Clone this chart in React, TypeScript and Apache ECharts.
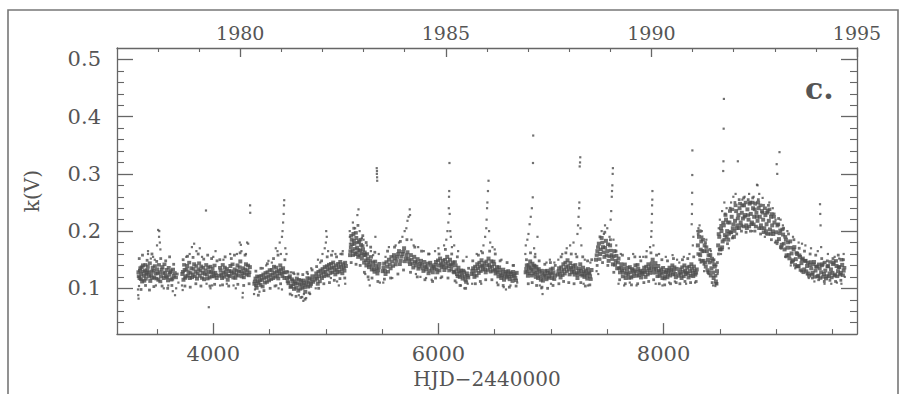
import React, { useEffect, useRef } from "react";
import * as echarts from "echarts";

// HJD-2440000 axis range (1977.0 .. 1995.0) and k(V) range
const xMin = 3144.5;
const xMax = 9718.5;
const yMin = 0.02;
const yMax = 0.52;

const xMajorTicks = [4000, 6000, 8000];
const xMinorTicks = [3500, 4500, 5000, 5500, 6500, 7000, 7500, 8500, 9000, 9500];
const yMajorTicks = [0.1, 0.2, 0.3, 0.4, 0.5];
const yMinorTicks = [0.04, 0.06, 0.08, 0.12, 0.14, 0.16, 0.18, 0.22, 0.24, 0.26, 0.28, 0.32, 0.34, 0.36, 0.38, 0.42, 0.44, 0.46, 0.48];
const yearMajorHJD = [4239.5, 6066.5, 7892.5, 9718.5];
const yearMajorLabels = ["1980", "1985", "1990", "1995"];
const yearMinorHJD = [3509.5, 3874.5, 4605.5, 4970.5, 5335.5, 5700.5, 6431.5, 6796.5, 7161.5, 7527.5, 8257.5, 8622.5, 8988.5, 9353.5];

// observations per season [HJD-2440000, k(V)]: dense core, extra fill, halo, outliers
const s1Core = [[3335,0.128],[3345,0.118],[3352,0.135],[3360,0.125],[3368,0.112],[3375,0.140],[3383,0.122],[3392,0.131],[3400,0.117],[3410,0.127],[3418,0.138],[3430,0.121],[3440,0.113],[3452,0.129],[3462,0.136],[3475,0.119],[3488,0.126],[3500,0.133],[3512,0.115],[3523,0.128],[3535,0.121],[3548,0.137],[3560,0.118],[3572,0.126],[3585,0.132],[3598,0.114],[3610,0.124],[3622,0.130],[3635,0.117],[3650,0.122]];
const s1Fill = [[3338,0.121],[3349,0.131],[3357,0.116],[3364,0.137],[3379,0.129],[3387,0.113],[3396,0.141],[3405,0.124],[3414,0.132],[3425,0.128],[3436,0.144],[3447,0.123],[3457,0.118],[3468,0.131],[3481,0.139],[3494,0.117],[3506,0.126],[3517,0.141],[3529,0.112],[3541,0.133],[3554,0.127],[3566,0.142],[3579,0.121],[3591,0.119],[3604,0.136],[3616,0.128],[3628,0.115],[3642,0.133],[3657,0.127],[3668,0.119]];
const s1Halo = [[3342,0.152],[3358,0.098],[3371,0.158],[3398,0.105],[3412,0.149],[3433,0.097],[3455,0.16],[3472,0.103],[3497,0.147],[3533,0.152],[3545,0.104],[3577,0.148],[3595,0.1],[3612,0.155],[3632,0.105],[3648,0.142],[3680,0.125]];
const s1Out = [[3331,0.098],[3333,0.088],[3336,0.082],[3340,0.104],[3420,0.16],[3445,0.152],[3480,0.15],[3500,0.175],[3510,0.202],[3520,0.200],[3518,0.19],[3525,0.18],[3530,0.168],[3490,0.105],[3560,0.1],[3600,0.105],[3640,0.095],[3660,0.088],[3670,0.1],[3690,0.11],[3420,0.165],[3465,0.155]];
const s2Core = [[3725,0.125],[3735,0.115],[3745,0.132],[3755,0.121],[3768,0.139],[3780,0.128],[3792,0.118],[3805,0.135],[3818,0.124],[3830,0.142],[3842,0.129],[3855,0.117],[3868,0.133],[3880,0.122],[3893,0.138],[3905,0.127],[3918,0.116],[3930,0.131],[3943,0.124],[3955,0.136],[3968,0.119],[3980,0.128],[3993,0.134],[4005,0.121],[4018,0.127],[4030,0.118]];
const s2Fill = [[3730,0.129],[3741,0.141],[3750,0.118],[3762,0.133],[3774,0.122],[3786,0.145],[3798,0.127],[3811,0.119],[3824,0.134],[3836,0.121],[3849,0.139],[3861,0.126],[3874,0.144],[3886,0.131],[3899,0.118],[3911,0.136],[3924,0.125],[3937,0.141],[3949,0.117],[3962,0.129],[3974,0.138],[3987,0.121],[3999,0.127],[4011,0.14],[4024,0.123]];
const s2Halo = [[3732,0.15],[3748,0.104],[3771,0.156],[3795,0.102],[3820,0.154],[3845,0.108],[3866,0.16],[3890,0.104],[3915,0.151],[3950,0.158],[3970,0.104],[3985,0.152],[4012,0.107],[4033,0.148]];
const s2Out = [[3722,0.105],[3728,0.097],[3760,0.155],[3790,0.16],[3810,0.172],[3830,0.178],[3850,0.165],[3880,0.17],[3935,0.236],[3900,0.155],[3960,0.067],[3975,0.1],[3940,0.108],[4000,0.155],[4020,0.165],[3990,0.105]];
const s3Core = [[4055,0.122],[4065,0.131],[4078,0.118],[4090,0.127],[4102,0.136],[4115,0.124],[4128,0.115],[4140,0.13],[4152,0.139],[4165,0.126],[4178,0.119],[4190,0.133],[4203,0.124],[4215,0.14],[4228,0.129],[4240,0.147],[4252,0.121],[4265,0.135],[4278,0.127],[4290,0.142],[4303,0.131],[4315,0.123],[4325,0.137]];
const s3Fill = [[4060,0.136],[4071,0.124],[4084,0.141],[4096,0.12],[4108,0.129],[4121,0.134],[4134,0.122],[4146,0.121],[4158,0.13],[4171,0.142],[4184,0.127],[4196,0.118],[4209,0.131],[4221,0.122],[4234,0.137],[4246,0.13],[4259,0.126],[4271,0.119],[4284,0.133],[4296,0.124],[4309,0.14],[4320,0.128]];
const s3Halo = [[4058,0.15],[4082,0.106],[4105,0.155],[4137,0.104],[4160,0.152],[4188,0.158],[4218,0.107],[4238,0.162],[4270,0.105],[4282,0.158],[4318,0.108]];
const s3Out = [[4060,0.105],[4090,0.15],[4120,0.108],[4150,0.16],[4180,0.105],[4210,0.16],[4235,0.18],[4245,0.176],[4250,0.165],[4260,0.084],[4262,0.092],[4290,0.16],[4300,0.18],[4310,0.178],[4327,0.245],[4328,0.232],[4200,0.1]];
const s4Core = [[4365,0.108],[4375,0.117],[4385,0.101],[4395,0.112],[4408,0.12],[4420,0.106],[4432,0.115],[4445,0.124],[4458,0.11],[4470,0.119],[4482,0.128],[4495,0.114],[4508,0.123],[4520,0.132],[4533,0.118],[4545,0.127],[4558,0.136],[4570,0.122],[4583,0.131],[4595,0.14],[4608,0.126],[4620,0.135],[4632,0.118],[4640,0.128]];
const s4Fill = [[4369,0.112],[4380,0.105],[4390,0.121],[4402,0.109],[4414,0.114],[4426,0.122],[4438,0.103],[4451,0.118],[4464,0.127],[4476,0.111],[4489,0.121],[4501,0.132],[4514,0.116],[4527,0.125],[4539,0.138],[4551,0.12],[4564,0.129],[4577,0.117],[4589,0.126],[4602,0.133],[4614,0.121],[4626,0.128]];
const s4Halo = [[4378,0.13],[4400,0.088],[4423,0.135],[4450,0.096],[4480,0.143],[4505,0.1],[4535,0.152],[4548,0.104],[4575,0.158],[4598,0.108],[4636,0.15]];
const s4Out = [[4362,0.09],[4370,0.098],[4410,0.094],[4440,0.135],[4470,0.14],[4490,0.148],[4520,0.145],[4555,0.17],[4570,0.165],[4590,0.18],[4600,0.16],[4615,0.2],[4620,0.215],[4625,0.23],[4628,0.245],[4630,0.254],[4610,0.19],[4640,0.17],[4650,0.16],[4580,0.1],[4610,0.098],[4560,0.105]];
const s5Core = [[4655,0.118],[4668,0.109],[4680,0.121],[4692,0.104],[4705,0.113],[4717,0.099],[4730,0.108],[4742,0.117],[4755,0.096],[4767,0.106],[4780,0.113],[4792,0.101],[4805,0.109],[4817,0.094],[4830,0.112],[4842,0.103],[4855,0.117],[4868,0.108],[4880,0.121]];
const s5Fill = [[4661,0.112],[4674,0.119],[4686,0.102],[4698,0.116],[4711,0.107],[4724,0.112],[4736,0.101],[4748,0.109],[4761,0.115],[4773,0.099],[4786,0.107],[4798,0.114],[4811,0.102],[4823,0.106],[4836,0.118],[4848,0.11],[4861,0.104],[4874,0.115],[4886,0.111]];
const s5Halo = [[4664,0.128],[4683,0.09],[4712,0.127],[4735,0.086],[4752,0.125],[4778,0.084],[4795,0.124],[4815,0.081],[4833,0.128],[4852,0.092],[4878,0.132]];
const s5Out = [[4660,0.13],[4690,0.128],[4720,0.125],[4760,0.088],[4790,0.085],[4800,0.078],[4805,0.09],[4825,0.083],[4840,0.125],[4700,0.088],[4870,0.135],[4860,0.09]];
const s6Core = [[4905,0.115],[4915,0.126],[4928,0.108],[4940,0.121],[4952,0.131],[4965,0.118],[4978,0.128],[4990,0.137],[5003,0.124],[5015,0.133],[5028,0.141],[5040,0.127],[5053,0.136],[5065,0.145],[5078,0.131],[5090,0.14],[5103,0.128],[5115,0.137],[5128,0.146],[5140,0.133],[5153,0.142],[5165,0.131],[5178,0.139]];
const s6Fill = [[4910,0.121],[4922,0.117],[4934,0.129],[4946,0.112],[4959,0.125],[4971,0.134],[4984,0.121],[4996,0.129],[5009,0.139],[5021,0.122],[5034,0.134],[5046,0.143],[5059,0.128],[5071,0.137],[5084,0.124],[5096,0.133],[5109,0.143],[5121,0.129],[5134,0.139],[5146,0.126],[5159,0.136],[5171,0.145]];
const s6Halo = [[4918,0.138],[4936,0.1],[4962,0.148],[4982,0.108],[5012,0.155],[5032,0.11],[5050,0.158],[5075,0.114],[5095,0.155],[5125,0.117],[5145,0.16],[5168,0.118]];
const s6Out = [[4910,0.1],[4930,0.15],[4950,0.145],[4970,0.16],[4990,0.17],[5000,0.18],[5008,0.19],[5003,0.2],[5020,0.165],[5045,0.118],[5060,0.165],[5085,0.16],[5100,0.112],[5115,0.105],[5130,0.16],[5150,0.165],[5172,0.108]];
const s7Core = [[5215,0.158],[5222,0.172],[5230,0.185],[5238,0.165],[5245,0.195],[5253,0.178],[5262,0.16],[5270,0.188],[5278,0.171],[5287,0.155],[5295,0.182],[5303,0.166],[5312,0.176],[5320,0.152],[5330,0.168],[5340,0.145],[5350,0.158],[5360,0.14],[5372,0.152],[5383,0.137],[5395,0.148],[5408,0.133],[5420,0.145],[5432,0.129],[5445,0.14],[5458,0.126],[5470,0.137]];
const s7Fill = [[5218,0.165],[5226,0.192],[5234,0.177],[5242,0.158],[5249,0.183],[5257,0.169],[5266,0.197],[5274,0.162],[5282,0.18],[5291,0.167],[5299,0.158],[5307,0.185],[5316,0.161],[5325,0.174],[5335,0.158],[5345,0.163],[5355,0.149],[5366,0.16],[5377,0.145],[5389,0.141],[5401,0.155],[5414,0.139],[5426,0.133],[5438,0.147],[5451,0.134],[5464,0.131],[5476,0.143]];
const s7Halo = [[5225,0.145],[5248,0.205],[5268,0.142],[5285,0.21],[5305,0.14],[5328,0.192],[5342,0.128],[5358,0.18],[5375,0.12],[5398,0.172],[5410,0.118],[5435,0.163],[5462,0.112]];
const s7Out = [[5212,0.2],[5213,0.19],[5214,0.178],[5240,0.215],[5260,0.205],[5280,0.228],[5290,0.238],[5300,0.2],[5320,0.188],[5335,0.185],[5350,0.125],[5365,0.175],[5380,0.115],[5390,0.105],[5400,0.165],[5420,0.158],[5440,0.19],[5452,0.31],[5453,0.3],[5455,0.294],[5456,0.288],[5454,0.305],[5470,0.16],[5480,0.11]];
const s8Core = [[5505,0.13],[5518,0.143],[5530,0.125],[5545,0.138],[5560,0.15],[5575,0.135],[5590,0.147],[5605,0.158],[5620,0.142],[5635,0.155],[5650,0.165],[5665,0.148],[5680,0.16],[5695,0.17],[5710,0.152],[5725,0.163],[5740,0.147],[5755,0.158],[5770,0.143],[5785,0.155],[5800,0.14],[5815,0.151],[5830,0.138],[5845,0.148],[5860,0.135],[5875,0.146],[5890,0.133],[5905,0.143],[5920,0.131],[5935,0.14],[5950,0.128]];
const s8Fill = [[5512,0.136],[5524,0.131],[5538,0.146],[5552,0.129],[5567,0.142],[5582,0.155],[5597,0.139],[5612,0.152],[5627,0.148],[5642,0.16],[5657,0.142],[5672,0.155],[5687,0.164],[5702,0.147],[5717,0.158],[5732,0.152],[5747,0.142],[5762,0.15],[5777,0.136],[5792,0.147],[5807,0.145],[5822,0.134],[5837,0.143],[5852,0.141],[5867,0.13],[5882,0.139],[5897,0.137],[5912,0.126],[5927,0.145],[5943,0.134],[5956,0.138]];
const s8Halo = [[5520,0.116],[5548,0.165],[5575,0.118],[5610,0.172],[5640,0.125],[5662,0.182],[5690,0.132],[5720,0.185],[5752,0.128],[5790,0.172],[5812,0.12],[5850,0.165],[5880,0.115],[5912,0.16],[5948,0.112]];
const s8Out = [[5510,0.11],[5530,0.155],[5560,0.172],[5590,0.118],[5620,0.175],[5650,0.18],[5680,0.19],[5700,0.2],[5715,0.205],[5725,0.218],[5735,0.225],[5745,0.238],[5748,0.228],[5760,0.185],[5780,0.175],[5800,0.125],[5820,0.172],[5840,0.12],[5870,0.165],[5890,0.118],[5920,0.16],[5940,0.115]];
const s9Core = [[5965,0.135],[5978,0.146],[5990,0.128],[6003,0.14],[6015,0.152],[6028,0.137],[6040,0.148],[6053,0.132],[6065,0.143],[6078,0.155],[6090,0.139],[6103,0.15],[6115,0.134],[6128,0.145],[6140,0.128],[6153,0.14],[6165,0.125],[6178,0.136],[6190,0.12],[6203,0.131],[6215,0.117],[6228,0.128],[6240,0.115],[6253,0.126],[6265,0.119]];
const s9Fill = [[5971,0.141],[5984,0.133],[5996,0.149],[6009,0.131],[6021,0.144],[6034,0.141],[6046,0.138],[6059,0.15],[6071,0.136],[6084,0.146],[6096,0.131],[6109,0.142],[6121,0.14],[6134,0.129],[6146,0.146],[6159,0.132],[6171,0.121],[6184,0.13],[6196,0.127],[6209,0.123],[6221,0.131],[6234,0.121],[6246,0.111],[6259,0.122]];
const s9Halo = [[5975,0.118],[6005,0.16],[6030,0.12],[6062,0.168],[6085,0.118],[6118,0.16],[6148,0.113],[6168,0.155],[6192,0.105],[6220,0.148],[6242,0.1],[6268,0.135]];
const s9Out = [[5970,0.165],[6000,0.17],[6020,0.118],[6050,0.175],[6070,0.185],[6080,0.2],[6088,0.215],[6092,0.24],[6094,0.26],[6096,0.27],[6098,0.319],[6100,0.23],[6105,0.2],[6110,0.19],[6120,0.172],[6140,0.175],[6160,0.11],[6175,0.165],[6200,0.105],[6230,0.1],[6250,0.155],[6260,0.108]];
const s10Core = [[6295,0.125],[6308,0.135],[6320,0.12],[6333,0.131],[6345,0.142],[6358,0.127],[6370,0.138],[6383,0.149],[6395,0.133],[6408,0.144],[6420,0.128],[6433,0.14],[6445,0.152],[6458,0.136],[6470,0.147],[6483,0.131],[6495,0.142],[6508,0.126],[6520,0.137],[6533,0.121],[6545,0.132],[6558,0.118],[6570,0.128],[6583,0.115],[6595,0.126],[6608,0.119],[6620,0.13],[6633,0.116],[6645,0.125],[6658,0.113],[6670,0.122],[6683,0.118],[6695,0.127]];
const s10Fill = [[6301,0.131],[6314,0.126],[6326,0.138],[6339,0.122],[6351,0.135],[6364,0.145],[6376,0.13],[6389,0.14],[6401,0.138],[6414,0.133],[6426,0.147],[6439,0.132],[6451,0.141],[6464,0.129],[6476,0.138],[6489,0.147],[6501,0.133],[6514,0.131],[6526,0.128],[6539,0.137],[6551,0.125],[6564,0.122],[6576,0.133],[6589,0.121],[6601,0.129],[6614,0.124],[6626,0.121],[6639,0.128],[6651,0.12],[6664,0.129],[6677,0.125],[6689,0.114]];
const s10Halo = [[6305,0.148],[6328,0.108],[6355,0.158],[6372,0.112],[6392,0.162],[6420,0.115],[6455,0.165],[6475,0.115],[6505,0.16],[6530,0.106],[6548,0.148],[6575,0.105],[6610,0.145],[6630,0.102],[6668,0.14],[6690,0.104]];
const s10Out = [[6300,0.108],[6340,0.16],[6380,0.165],[6400,0.175],[6415,0.19],[6425,0.205],[6428,0.22],[6432,0.24],[6435,0.25],[6440,0.27],[6445,0.288],[6450,0.2],[6460,0.18],[6480,0.172],[6500,0.168],[6520,0.11],[6560,0.15],[6580,0.102],[6600,0.098],[6640,0.105],[6660,0.14],[6700,0.11],[6380,0.108]];
const s11Core = [[6775,0.128],[6785,0.14],[6795,0.122],[6805,0.135],[6815,0.147],[6825,0.131],[6835,0.143],[6845,0.126],[6855,0.138],[6865,0.12],[6875,0.132],[6885,0.118],[6897,0.129],[6910,0.115],[6922,0.126],[6935,0.119],[6948,0.13],[6960,0.116],[6972,0.127],[6985,0.121],[6998,0.133],[7010,0.118],[7022,0.128],[7035,0.122]];
const s11Fill = [[6780,0.134],[6790,0.129],[6800,0.141],[6810,0.126],[6820,0.137],[6830,0.122],[6840,0.133],[6850,0.14],[6860,0.127],[6870,0.138],[6880,0.125],[6891,0.134],[6903,0.121],[6916,0.131],[6928,0.113],[6941,0.124],[6954,0.122],[6966,0.131],[6978,0.118],[6991,0.127],[7004,0.125],[7016,0.135],[7029,0.116]];
const s11Halo = [[6782,0.15],[6798,0.108],[6818,0.162],[6833,0.11],[6858,0.155],[6872,0.105],[6895,0.148],[6920,0.102],[6945,0.142],[6970,0.1],[6995,0.145],[7018,0.105],[7038,0.14]];
const s11Out = [[6772,0.16],[6776,0.175],[6790,0.185],[6800,0.195],[6810,0.212],[6820,0.225],[6830,0.24],[6838,0.259],[6840,0.319],[6842,0.367],[6850,0.17],[6860,0.16],[6880,0.19],[6900,0.105],[6915,0.1],[6925,0.09],[6960,0.145],[6990,0.15],[7000,0.108],[7030,0.145]];
const s12Core = [[7060,0.124],[7072,0.135],[7085,0.119],[7097,0.13],[7110,0.142],[7122,0.126],[7135,0.137],[7147,0.149],[7160,0.133],[7172,0.144],[7185,0.128],[7197,0.139],[7210,0.124],[7222,0.135],[7235,0.118],[7247,0.13],[7260,0.142],[7272,0.125],[7285,0.136],[7297,0.12],[7310,0.131],[7322,0.117],[7335,0.128],[7347,0.121],[7360,0.132]];
const s12Fill = [[7066,0.13],[7078,0.125],[7091,0.137],[7103,0.123],[7116,0.133],[7128,0.145],[7141,0.13],[7153,0.139],[7166,0.124],[7178,0.136],[7191,0.133],[7203,0.129],[7216,0.141],[7228,0.127],[7241,0.124],[7253,0.135],[7266,0.131],[7278,0.122],[7291,0.129],[7303,0.126],[7316,0.123],[7328,0.134],[7341,0.126],[7353,0.116]];
const s12Halo = [[7070,0.108],[7090,0.155],[7112,0.112],[7132,0.162],[7158,0.11],[7180,0.16],[7205,0.108],[7230,0.155],[7265,0.11],[7282,0.155],[7305,0.104],[7325,0.148],[7345,0.106],[7362,0.15]];
const s12Out = [[7065,0.15],[7100,0.16],[7140,0.17],[7170,0.175],[7200,0.18],[7220,0.16],[7235,0.195],[7240,0.21],[7245,0.225],[7250,0.24],[7252,0.25],[7255,0.313],[7258,0.32],[7260,0.329],[7262,0.205],[7270,0.175],[7290,0.108],[7300,0.15],[7330,0.105],[7350,0.145]];
const s13Core = [[7400,0.15],[7412,0.165],[7425,0.178],[7437,0.16],[7450,0.188],[7462,0.172],[7475,0.155],[7488,0.183],[7500,0.165],[7512,0.148],[7525,0.175],[7538,0.158],[7550,0.142],[7563,0.165],[7575,0.148],[7588,0.135],[7600,0.152],[7613,0.128],[7625,0.142],[7638,0.121],[7650,0.135],[7663,0.118],[7675,0.13],[7688,0.124],[7700,0.137],[7713,0.119],[7725,0.131],[7738,0.126],[7750,0.14],[7763,0.122],[7775,0.134],[7788,0.128],[7800,0.119]];
const s13Fill = [[7406,0.158],[7418,0.172],[7431,0.151],[7443,0.168],[7456,0.18],[7468,0.163],[7481,0.171],[7494,0.158],[7506,0.177],[7518,0.156],[7531,0.166],[7544,0.151],[7556,0.156],[7569,0.141],[7581,0.157],[7594,0.145],[7606,0.135],[7619,0.136],[7631,0.131],[7644,0.128],[7656,0.142],[7669,0.125],[7681,0.136],[7694,0.118],[7706,0.128],[7719,0.134],[7731,0.121],[7744,0.132],[7756,0.129],[7769,0.141],[7781,0.123],[7794,0.131],[7806,0.127]];
const s13Halo = [[7410,0.14],[7435,0.19],[7458,0.145],[7478,0.198],[7505,0.14],[7528,0.185],[7558,0.128],[7578,0.165],[7610,0.115],[7635,0.158],[7660,0.108],[7690,0.152],[7715,0.106],[7745,0.155],[7770,0.108],[7798,0.148]];
const s13Out = [[7405,0.13],[7420,0.125],[7450,0.2],[7470,0.195],[7480,0.21],[7500,0.205],[7520,0.19],[7530,0.22],[7535,0.235],[7540,0.26],[7542,0.27],[7545,0.28],[7548,0.3],[7550,0.31],[7555,0.185],[7580,0.175],[7600,0.108],[7620,0.16],[7650,0.105],[7700,0.11],[7730,0.16],[7760,0.105],[7790,0.155]];
const s14Core = [[7815,0.125],[7828,0.136],[7840,0.12],[7853,0.131],[7865,0.142],[7878,0.127],[7890,0.138],[7903,0.15],[7915,0.133],[7928,0.144],[7940,0.128],[7953,0.139],[7965,0.122],[7978,0.133],[7990,0.118],[8003,0.129],[8015,0.121],[8028,0.132],[8040,0.125],[8053,0.136],[8065,0.128],[8078,0.14],[8090,0.131],[8103,0.125],[8115,0.134]];
const s14Fill = [[7821,0.131],[7834,0.128],[7846,0.138],[7859,0.124],[7871,0.135],[7884,0.132],[7896,0.144],[7909,0.127],[7921,0.138],[7934,0.134],[7946,0.121],[7959,0.131],[7971,0.128],[7984,0.125],[7996,0.136],[8009,0.117],[8021,0.128],[8034,0.119],[8046,0.131],[8059,0.122],[8071,0.133],[8084,0.124],[8096,0.137],[8109,0.119]];
const s14Halo = [[7825,0.11],[7845,0.155],[7868,0.112],[7888,0.162],[7912,0.115],[7938,0.158],[7962,0.108],[7985,0.15],[8010,0.106],[8035,0.148],[8062,0.108],[8088,0.152],[8112,0.11]];
const s14Out = [[7820,0.155],[7850,0.165],[7880,0.172],[7890,0.19],[7893,0.2],[7895,0.215],[7897,0.23],[7898,0.245],[7900,0.255],[7901,0.27],[7910,0.175],[7930,0.108],[7960,0.16],[7990,0.105],[8020,0.155],[8050,0.11],[8080,0.158],[8100,0.112],[8120,0.15]];
const s15Core = [[8135,0.122],[8148,0.133],[8160,0.118],[8172,0.129],[8185,0.14],[8197,0.125],[8210,0.136],[8222,0.119],[8235,0.13],[8247,0.142],[8258,0.127],[8270,0.138],[8282,0.124],[8295,0.133]];
const s15Fill = [[8141,0.128],[8154,0.125],[8166,0.137],[8179,0.121],[8191,0.131],[8204,0.128],[8216,0.126],[8229,0.138],[8241,0.122],[8252,0.134],[8264,0.121],[8276,0.131],[8289,0.127]];
const s15Halo = [[8145,0.108],[8168,0.15],[8190,0.112],[8215,0.152],[8240,0.11],[8268,0.155],[8290,0.112]];
const s15Out = [[8140,0.145],[8180,0.155],[8200,0.108],[8230,0.16],[8250,0.212],[8252,0.23],[8253,0.247],[8254,0.267],[8255,0.298],[8256,0.341],[8260,0.175],[8265,0.19],[8280,0.11]];
const s16Core = [[8305,0.175],[8315,0.19],[8325,0.158],[8335,0.182],[8345,0.165],[8355,0.148],[8365,0.175],[8375,0.138],[8385,0.165],[8395,0.15],[8405,0.128],[8415,0.158],[8425,0.135],[8435,0.148],[8445,0.118],[8455,0.138],[8465,0.112],[8475,0.13]];
const s16Fill = [[8310,0.16],[8320,0.2],[8330,0.168],[8340,0.148],[8350,0.185],[8360,0.165],[8370,0.145],[8380,0.172],[8390,0.132],[8400,0.158],[8410,0.145],[8420,0.122],[8430,0.152],[8440,0.128],[8450,0.142],[8460,0.122],[8470,0.108]];
const s16Halo = [[8308,0.195],[8322,0.15],[8342,0.19],[8358,0.142],[8372,0.18],[8392,0.128],[8412,0.168],[8432,0.11],[8448,0.15],[8468,0.108],[8478,0.145]];
const s16Out = [[8300,0.2],[8310,0.205],[8320,0.21],[8330,0.145],[8340,0.2],[8360,0.13],[8380,0.185],[8400,0.125],[8420,0.165],[8440,0.105],[8460,0.104],[8470,0.14],[8480,0.125]];
const s17Core = [[8485,0.175],[8495,0.19],[8505,0.168],[8515,0.2],[8525,0.182],[8535,0.21],[8545,0.193],[8555,0.22],[8565,0.2],[8575,0.185],[8585,0.215],[8595,0.198],[8605,0.225],[8615,0.205],[8625,0.19],[8635,0.218],[8645,0.235],[8655,0.21],[8665,0.228],[8675,0.24],[8685,0.215],[8695,0.232],[8705,0.222],[8715,0.245],[8725,0.228],[8735,0.21],[8745,0.238],[8755,0.22],[8765,0.248],[8775,0.23],[8785,0.215],[8795,0.24],[8805,0.225],[8815,0.248],[8825,0.232],[8835,0.218],[8845,0.24],[8855,0.225],[8865,0.21],[8875,0.235],[8885,0.22],[8895,0.205],[8905,0.228],[8915,0.212],[8925,0.235],[8935,0.218],[8945,0.203],[8955,0.225],[8965,0.21],[8975,0.195],[8985,0.215]];
const s17Fill = [[8490,0.195],[8500,0.168],[8510,0.205],[8520,0.172],[8530,0.215],[8540,0.185],[8550,0.228],[8560,0.19],[8570,0.215],[8580,0.195],[8590,0.235],[8600,0.198],[8610,0.238],[8620,0.212],[8630,0.2],[8640,0.245],[8650,0.205],[8660,0.222],[8670,0.205],[8680,0.248],[8690,0.21],[8700,0.245],[8710,0.208],[8720,0.225],[8730,0.25],[8740,0.205],[8750,0.228],[8760,0.208],[8770,0.25],[8780,0.212],[8790,0.25],[8800,0.212],[8810,0.238],[8820,0.208],[8830,0.225],[8840,0.25],[8850,0.205],[8860,0.245],[8870,0.205],[8880,0.232],[8890,0.198],[8900,0.24],[8910,0.2],[8920,0.232],[8930,0.195],[8940,0.238],[8950,0.195],[8960,0.23],[8970,0.2],[8980,0.225]];
const s17Halo = [[8488,0.16],[8508,0.21],[8522,0.168],[8548,0.23],[8568,0.178],[8592,0.24],[8612,0.188],[8634,0.25],[8650,0.195],[8672,0.255],[8692,0.2],[8712,0.258],[8733,0.198],[8752,0.255],[8772,0.2],[8792,0.258],[8812,0.2],[8842,0.255],[8862,0.195],[8888,0.245],[8912,0.195],[8932,0.245],[8958,0.185],[8982,0.23]];
const s17Out = [[8490,0.205],[8500,0.22],[8510,0.16],[8520,0.235],[8530,0.305],[8532,0.322],[8534,0.379],[8536,0.431],[8540,0.25],[8560,0.24],[8580,0.17],[8600,0.25],[8620,0.26],[8640,0.265],[8660,0.322],[8700,0.255],[8720,0.26],[8760,0.265],[8790,0.2],[8800,0.26],[8830,0.281],[8835,0.28],[8850,0.265],[8880,0.258],[8900,0.19],[8940,0.25],[8970,0.24],[8990,0.18]];
const s18Core = [[9000,0.198],[9012,0.21],[9025,0.186],[9037,0.201],[9050,0.176],[9062,0.194],[9075,0.168],[9087,0.185],[9100,0.171],[9112,0.158],[9125,0.182],[9137,0.161],[9150,0.149],[9162,0.172],[9175,0.151],[9187,0.16],[9200,0.139],[9212,0.155],[9225,0.144],[9237,0.152],[9250,0.133],[9262,0.148],[9275,0.139],[9287,0.126],[9300,0.141],[9312,0.135],[9325,0.127],[9337,0.146],[9350,0.131],[9362,0.138],[9375,0.122],[9387,0.135],[9400,0.128],[9412,0.142],[9425,0.125],[9437,0.131],[9450,0.121],[9462,0.139],[9475,0.126],[9487,0.133],[9500,0.127],[9512,0.145],[9525,0.124],[9537,0.139],[9550,0.13],[9562,0.137],[9575,0.127],[9587,0.141],[9600,0.131]];
const s18Fill = [[9006,0.182],[9018,0.212],[9031,0.196],[9043,0.172],[9056,0.203],[9068,0.178],[9081,0.19],[9093,0.158],[9106,0.18],[9118,0.152],[9131,0.171],[9143,0.147],[9156,0.168],[9168,0.141],[9181,0.162],[9193,0.138],[9206,0.158],[9218,0.132],[9231,0.15],[9243,0.128],[9256,0.148],[9268,0.13],[9281,0.145],[9293,0.122],[9306,0.146],[9318,0.124],[9331,0.142],[9343,0.12],[9356,0.138],[9368,0.121],[9381,0.142],[9393,0.118],[9406,0.14],[9418,0.12],[9431,0.145],[9443,0.117],[9456,0.138],[9468,0.121],[9481,0.146],[9493,0.119],[9506,0.142],[9518,0.122],[9531,0.148],[9543,0.121],[9556,0.137],[9568,0.124],[9581,0.15],[9593,0.123],[9606,0.136]];
const s18Halo = [[9008,0.178],[9022,0.222],[9045,0.17],[9066,0.205],[9090,0.155],[9110,0.195],[9135,0.145],[9158,0.185],[9178,0.138],[9205,0.17],[9225,0.13],[9252,0.165],[9275,0.125],[9302,0.16],[9322,0.118],[9352,0.158],[9378,0.115],[9405,0.152],[9428,0.112],[9455,0.148],[9478,0.114],[9505,0.152],[9528,0.112],[9552,0.158],[9575,0.114],[9598,0.15]];
const s18Out = [[8995,0.22],[9005,0.317],[9010,0.3],[9030,0.338],[9040,0.22],[9060,0.21],[9080,0.155],[9100,0.2],[9130,0.14],[9150,0.19],[9170,0.135],[9200,0.18],[9230,0.178],[9260,0.175],[9290,0.118],[9310,0.17],[9340,0.112],[9370,0.165],[9390,0.247],[9392,0.23],[9395,0.21],[9400,0.172],[9430,0.108],[9460,0.16],[9490,0.108],[9520,0.155],[9540,0.11],[9560,0.152],[9580,0.108],[9600,0.16],[9610,0.12]];

const coreSets = [s1Core, s2Core, s3Core, s4Core, s5Core, s6Core, s7Core, s8Core, s9Core, s10Core, s11Core, s12Core, s13Core, s14Core, s15Core, s16Core, s17Core, s18Core];
const fillSets = [s1Fill, s2Fill, s3Fill, s4Fill, s5Fill, s6Fill, s7Fill, s8Fill, s9Fill, s10Fill, s11Fill, s12Fill, s13Fill, s14Fill, s15Fill, s16Fill, s17Fill, s18Fill];
const haloSets = [s1Halo, s2Halo, s3Halo, s4Halo, s5Halo, s6Halo, s7Halo, s8Halo, s9Halo, s10Halo, s11Halo, s12Halo, s13Halo, s14Halo, s15Halo, s16Halo, s17Halo, s18Halo];
const outSets = [s1Out, s2Out, s3Out, s4Out, s5Out, s6Out, s7Out, s8Out, s9Out, s10Out, s11Out, s12Out, s13Out, s14Out, s15Out, s16Out, s17Out, s18Out];

const FONT = "DejaVu Serif";
const TXT = "#555";
const AX = "#666";
const DOT = "#4d4d4d";

export default function App() {
  const ref = useRef<HTMLDivElement>(null);
  useEffect(() => {
    if (!ref.current) return;
    const chart = echarts.init(ref.current, null, { renderer: "svg" });
    const hideAll = {
      axisLine: { show: false },
      axisLabel: { show: false },
      splitLine: { show: false },
    };
    const xBase = { type: "value", min: xMin, max: xMax, gridIndex: 0 };
    const yBase = { type: "value", min: yMin, max: yMax, gridIndex: 0 };
    const dots = (name: string, data: number[][], size: number[]) => ({
      type: "scatter",
      name,
      xAxisIndex: 0,
      yAxisIndex: 0,
      symbol: "rect",
      symbolSize: size,
      itemStyle: { color: DOT },
      data,
      silent: true,
    });
    chart.setOption({
      animation: false,
      backgroundColor: "#fff",
      grid: { left: 117, right: 51, top: 48, bottom: 55 },
      graphic: [
        {
          type: "rect",
          shape: { x: 8, y: 10, width: 890, height: 400 },
          style: { fill: "none", stroke: "#777", lineWidth: 1.6 },
          silent: true,
        },
        {
          type: "text",
          x: 805,
          y: 73,
          style: { text: "c.", font: `bold 30px ${FONT}`, fill: "#555" },
          silent: true,
        },
      ],
      xAxis: [
        {
          ...xBase,
          position: "bottom",
          name: "HJD\u22122440000",
          nameLocation: "middle",
          nameGap: 32,
          nameTextStyle: { fontFamily: FONT, fontSize: 20, color: TXT },
          axisLine: { show: true, onZero: false, lineStyle: { color: AX, width: 1.3 } },
          axisTick: { show: true, inside: true, length: 11, customValues: xMajorTicks, lineStyle: { color: AX, width: 1.3 } },
          axisLabel: {
            show: true,
            customValues: xMajorTicks,
            margin: 9,
            fontFamily: FONT,
            fontSize: 21,
            color: TXT,
            formatter: (v: number) => String(Math.round(v)),
          },
          splitLine: { show: false },
        },
        {
          ...xBase,
          position: "bottom",
          ...hideAll,
          axisTick: { show: true, inside: true, length: 5, customValues: xMinorTicks, lineStyle: { color: AX, width: 1.1 } },
        },
        {
          ...xBase,
          position: "top",
          axisLine: { show: true, onZero: false, lineStyle: { color: AX, width: 1.3 } },
          axisTick: { show: true, inside: true, length: 9, customValues: yearMajorHJD, lineStyle: { color: AX, width: 1.3 } },
          axisLabel: {
            show: true,
            customValues: yearMajorHJD,
            margin: 6,
            fontFamily: FONT,
            fontSize: 19,
            color: TXT,
            formatter: (v: number) => {
              const i = yearMajorHJD.findIndex((h) => Math.abs(h - v) < 1);
              return i >= 0 ? yearMajorLabels[i] : "";
            },
          },
          splitLine: { show: false },
        },
        {
          ...xBase,
          position: "top",
          ...hideAll,
          axisTick: { show: true, inside: true, length: 4, customValues: yearMinorHJD, lineStyle: { color: AX, width: 1.1 } },
        },
      ],
      yAxis: [
        {
          ...yBase,
          position: "left",
          name: "k(V)",
          nameLocation: "middle",
          nameGap: 75,
          nameRotate: 90,
          nameTextStyle: { fontFamily: FONT, fontSize: 20, color: TXT },
          axisLine: { show: true, onZero: false, lineStyle: { color: AX, width: 1.3 } },
          axisTick: { show: true, inside: true, length: 16, customValues: yMajorTicks, lineStyle: { color: AX, width: 1.3 } },
          axisLabel: {
            show: true,
            customValues: yMajorTicks,
            margin: 16,
            fontFamily: FONT,
            fontSize: 21,
            color: TXT,
            formatter: (v: number) => v.toFixed(1),
          },
          splitLine: { show: false },
        },
        {
          ...yBase,
          position: "left",
          ...hideAll,
          axisTick: { show: true, inside: true, length: 7, customValues: yMinorTicks, lineStyle: { color: AX, width: 1.1 } },
        },
        {
          ...yBase,
          position: "right",
          axisLine: { show: true, onZero: false, lineStyle: { color: AX, width: 1.3 } },
          axisTick: { show: true, inside: true, length: 16, customValues: yMajorTicks, lineStyle: { color: AX, width: 1.3 } },
          axisLabel: { show: false },
          splitLine: { show: false },
        },
        {
          ...yBase,
          position: "right",
          ...hideAll,
          axisTick: { show: true, inside: true, length: 7, customValues: yMinorTicks, lineStyle: { color: AX, width: 1.1 } },
        },
      ],
      series: [
        dots("dense", coreSets.flat(), [4, 4]),
        dots("fill", fillSets.flat(), [4, 3.5]),
        dots("halo", haloSets.flat(), [2.8, 2.8]),
        dots("sparse", outSets.flat(), [2.2, 2.2]),
      ],
    });
    return () => chart.dispose();
  }, []);
  return (
    <div
      ref={ref}
      style={{ position: "fixed", left: 0, top: 0, width: 908, height: 394, background: "#fff" }}
    />
  );
}
